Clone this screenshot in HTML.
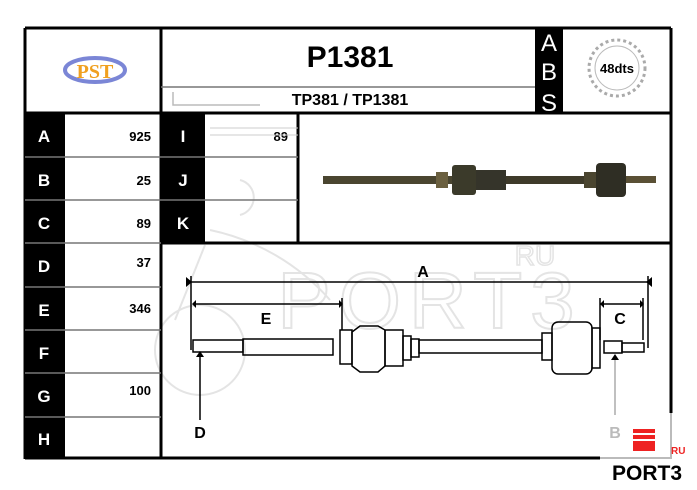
<!DOCTYPE html>
<html><head><meta charset="utf-8"><style>
html,body{margin:0;padding:0;background:#fff;}
svg{display:block;font-family:"Liberation Sans",Arial,sans-serif;}
</style></head><body>
<svg width="697" height="490" viewBox="0 0 697 490" xmlns="http://www.w3.org/2000/svg">
<rect width="697" height="490" fill="#fff"/>
<!-- watermark -->
<g fill="none" stroke="#e4e4e4" stroke-width="2">
<circle cx="200" cy="350" r="45"/>
<path d="M205 245 L175 320"/>
<path d="M240 180 A18 18 0 0 1 240 215"/>
<path d="M210 230 A220 220 0 0 1 330 300"/>
</g>
<text x="430" y="328" font-size="80" fill="none" stroke="#e4e4e4" stroke-width="2" text-anchor="middle" letter-spacing="8">PORT3</text>
<text x="535" y="265" font-size="28" fill="none" stroke="#e4e4e4" stroke-width="1.5" text-anchor="middle">RU</text>

<!-- header -->
<path d="M25 28 H671 M671 28 V413 M25 28 V459 M25 458 H600 M25 113 H671 M161 28 V459 M298 113 V243 M161 243 H671" stroke="#000" stroke-width="3" fill="none"/>
<path d="M671 413 V459 M600 458 H671" stroke="#bbb" stroke-width="2" fill="none"/>
<path d="M161 87 H535" stroke="#777" stroke-width="1.5"/>
<path d="M173 92 V105 H260" stroke="#bbb" stroke-width="1.5" fill="none"/>
<rect x="535" y="28" width="28" height="85" fill="#000"/>
<text x="549" y="51" font-size="24" fill="#fff" text-anchor="middle">A</text>
<text x="549" y="80" font-size="24" fill="#fff" text-anchor="middle">B</text>
<text x="549" y="111" font-size="24" fill="#fff" text-anchor="middle">S</text>
<text x="350" y="67" font-size="30" font-weight="bold" text-anchor="middle">P1381</text>
<text x="350" y="105" font-size="16" font-weight="bold" text-anchor="middle">TP381 / TP1381</text>
<!-- gear -->
<circle cx="617" cy="68" r="28" fill="none" stroke="#aaa" stroke-width="3" stroke-dasharray="3 3"/>
<circle cx="617" cy="68" r="22" fill="none" stroke="#bbb" stroke-width="1"/>
<text x="617" y="73" font-size="13" font-weight="bold" text-anchor="middle">48dts</text>
<!-- logo -->
<ellipse cx="95" cy="70" rx="30" ry="12" fill="none" stroke="#7b86d6" stroke-width="4"/>
<text x="95" y="78" font-size="20" font-weight="bold" fill="#f0a020" text-anchor="middle" font-family="Liberation Serif,serif">PST</text>

<!-- left column -->
<rect x="25" y="113" width="40" height="346" fill="#000"/>
<rect x="161" y="113" width="44" height="130" fill="#000"/>
<g stroke="#777" stroke-width="1.5">
<path d="M25 157 H298 M25 200 H298 M25 287 H161 M25 330 H161 M25 373 H161 M25 417 H161 M25 243 H161"/>
</g>
<g font-size="17" font-weight="bold" fill="#fff" text-anchor="middle">
<text x="44" y="142">A</text><text x="44" y="186">B</text><text x="44" y="229">C</text>
<text x="44" y="272">D</text><text x="44" y="316">E</text><text x="44" y="359">F</text>
<text x="44" y="402">G</text><text x="44" y="445">H</text>
<text x="183" y="142">I</text><text x="183" y="186">J</text><text x="183" y="229">K</text>
</g>
<g font-size="13" font-weight="bold" text-anchor="end">
<text x="151" y="141">925</text><text x="151" y="185">25</text><text x="151" y="228">89</text>
<text x="151" y="267">37</text><text x="151" y="313">346</text><text x="151" y="395">100</text>
<text x="288" y="141">89</text>
</g>
<path d="M210 128 H298 M210 135 H298" stroke="#ccc" stroke-width="1"/>

<!-- photo shaft -->
<g>
<rect x="323" y="176" width="130" height="8" fill="#4a4530"/>
<rect x="436" y="172" width="12" height="16" fill="#6b6040"/>
<rect x="452" y="165" width="24" height="30" rx="3" fill="#3b3a2a"/>
<rect x="476" y="170" width="30" height="20" fill="#35342a"/>
<rect x="506" y="176" width="80" height="8" fill="#3e3a2a"/>
<rect x="584" y="172" width="14" height="16" fill="#4a4530"/>
<rect x="596" y="163" width="30" height="34" rx="4" fill="#2f2e24"/>
<rect x="626" y="176" width="30" height="7" fill="#5a5035"/>
</g>

<!-- technical drawing -->
<g stroke="#000" fill="none" stroke-width="1.5">
<path d="M189 282 H648 M191 276 V350 M648 276 V348"/>
<path d="M193 304 H342 M342 298 V330"/>
<path d="M600 304 H643 M600 298 V340 M643 298 V340"/>
<rect x="193" y="340" width="50" height="12"/>
<rect x="243" y="339" width="90" height="16"/>
<rect x="340" y="330" width="12" height="34"/>
<path d="M352 332 L360 326 H378 L385 330 V366 L378 372 H360 L352 366 Z"/>
<rect x="385" y="330" width="18" height="36"/>
<rect x="403" y="336" width="8" height="24"/>
<rect x="411" y="339" width="8" height="18"/>
<rect x="419" y="340" width="123" height="13"/>
<rect x="542" y="333" width="10" height="27"/>
<rect x="552" y="322" width="40" height="52" rx="6"/>
<rect x="592" y="328" width="8" height="40"/>
<rect x="604" y="341" width="18" height="12"/>
<rect x="622" y="343" width="22" height="9"/>
<path d="M200 352 V420"/>
</g>
<path d="M196 357 L200 351 L204 357 Z" fill="#000"/>
<path d="M615 356 V415" stroke="#aaa" stroke-width="1.5"/>
<path d="M611 360 L615 354 L619 360 Z" fill="#000"/>
<path d="M186 277 L192 282 L186 287 Z M652 277 L646 282 L652 287 Z M196 300 L192 304 L196 308 Z M339 300 L343 304 L339 308 Z M604 300 L600 304 L604 308 Z M640 300 L644 304 L640 308 Z" fill="#000"/>
<g font-size="16" font-weight="bold" text-anchor="middle">
<text x="423" y="277">A</text><text x="266" y="324">E</text><text x="620" y="324">C</text>
<text x="200" y="438">D</text>
</g>
<text x="615" y="438" font-size="16" font-weight="bold" fill="#bbb" text-anchor="middle">B</text>

<!-- PORT3 logo -->
<rect x="633" y="429" width="22" height="4" fill="#e22"/>
<rect x="633" y="435" width="22" height="4" fill="#e22"/>
<rect x="633" y="441" width="22" height="10" fill="#e22"/>
<text x="671" y="454" font-size="10" font-weight="bold" fill="#e22">RU</text>
<text x="647" y="480" font-size="21" font-weight="bold" fill="#000" text-anchor="middle">PORT3</text>
</svg>
</body></html>
